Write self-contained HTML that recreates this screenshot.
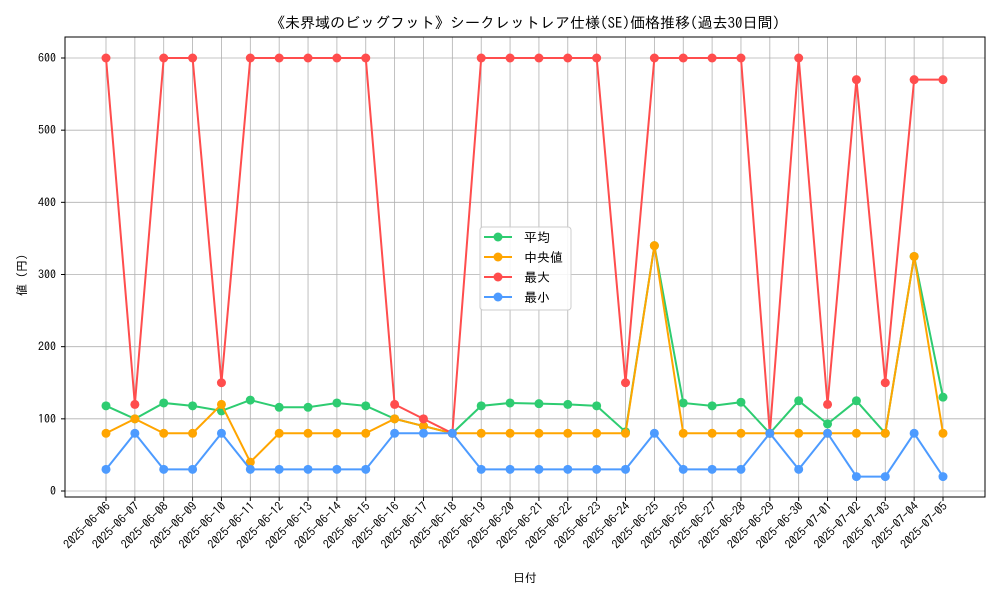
<!DOCTYPE html>
<html><head><meta charset="utf-8"><style>
body{margin:0;background:#fff;}
svg text{font-family:"IPAGothic","Noto Sans CJK JP",sans-serif;fill:#000;}
</style></head><body>
<svg id="chart" width="1000" height="600" xmlns="http://www.w3.org/2000/svg">
<rect width="1000" height="600" fill="#fff"/>
<text x="525" y="28" font-size="15" text-anchor="middle">《未界域のビッグフット》シークレットレア仕様(SE)価格推移(過去30日間)</text>
<g id="grid"></g>
<g id="axes"></g>
<g id="series"></g>
<rect x="65" y="37" width="920" height="460" fill="none" stroke="#000" stroke-width="1"/>
<text x="525" y="582" font-size="12" text-anchor="middle">日付</text>
<text transform="translate(26,275) rotate(-90)" font-size="12" text-anchor="middle">値 (円)</text>
<g id="legend">
<rect x="480" y="227" width="91" height="83" rx="3" fill="#fff" fill-opacity="0.85" stroke="#ccc"/>
</g>
</svg>
<script>
const dates = ["2025-06-06","2025-06-07","2025-06-08","2025-06-09","2025-06-10","2025-06-11","2025-06-12","2025-06-13","2025-06-14","2025-06-15","2025-06-16","2025-06-17","2025-06-18","2025-06-19","2025-06-20","2025-06-21","2025-06-22","2025-06-23","2025-06-24","2025-06-25","2025-06-26","2025-06-27","2025-06-28","2025-06-29","2025-06-30","2025-07-01","2025-07-02","2025-07-03","2025-07-04","2025-07-05"];
const avgValues = [118,100,122,118,111,126,116,116,122,118,100,90,80,118,122,121,120,118,82,340,122,118,123,80,125,93,125,80,325,130];
const medianValues = [80,100,80,80,120,40,80,80,80,80,100,90,80,80,80,80,80,80,80,340,80,80,80,80,80,80,80,80,325,80];
const maxValues = [600,120,600,600,150,600,600,600,600,600,120,100,80,600,600,600,600,600,150,600,600,600,600,80,600,120,570,150,570,570];
const minValues = [30,80,30,30,80,30,30,30,30,30,80,80,80,30,30,30,30,30,30,80,30,30,30,80,30,80,20,20,80,20];
const yTicks = [0,100,200,300,400,500,600];
const seriesNames = ["平均","中央値","最大","最小"];
const seriesColors = ["#2ecc71","#ffa500","#ff4d4d","#4d9bff"];

const NS="http://www.w3.org/2000/svg";
const X0=106,X1=943,Y0=491,Y600=58;
function xs(i){return X0+(X1-X0)*i/(dates.length-1);}
function ys(v){return Y0-(Y0-Y600)*v/600;}
function mk(tag,attrs,parent){const e=document.createElementNS(NS,tag);for(const k in attrs)e.setAttribute(k,attrs[k]);parent.appendChild(e);return e;}
const grid=document.getElementById('grid'),axes=document.getElementById('axes'),ser=document.getElementById('series'),leg=document.getElementById('legend');
dates.forEach((d,i)=>{
  const x=xs(i);
  const g=mk('line',{x1:x,x2:x,y1:37,y2:497,stroke:'#b0b0b0','stroke-width':0.8},grid);
  
  
  const t=mk('line',{x1:x,x2:x,y1:497,y2:501,stroke:'#000'},axes);
  
  
  const l=mk('text',{transform:`translate(${x+5},${507}) rotate(-45)`,'font-size':12,'text-anchor':'end'},axes);
  l.textContent=d;
  
  
});
yTicks.forEach(v=>{
  const y=ys(v);
  const g=mk('line',{x1:65,x2:985,y1:y,y2:y,stroke:'#b0b0b0','stroke-width':0.8},grid);
  
  
  const t=mk('line',{x1:61,x2:65,y1:y,y2:y,stroke:'#000'},axes);
  
  
  const l=mk('text',{x:56,y:y+4,'font-size':12,'text-anchor':'end'},axes);
  l.textContent=v;
  
  
});
[avgValues,medianValues,maxValues,minValues].forEach((vals,s)=>{
  const c=seriesColors[s];
  const p=mk('polyline',{points:vals.map((v,i)=>xs(i)+','+ys(v)).join(' '),fill:'none',stroke:c,'stroke-width':2},ser);
  
  
  vals.forEach((v,i)=>{
    const m=mk('circle',{cx:xs(i),cy:ys(v),r:4.5,fill:c},ser);
    
    
  });
  const ly=237+s*20;
  const ll=mk('line',{x1:484,x2:512,y1:ly,y2:ly,stroke:c,'stroke-width':2},leg);
  
  
  const lc=mk('circle',{cx:498,cy:ly,r:4.5,fill:c},leg);
  
  
  const lt=mk('text',{x:524,y:ly+5,'font-size':13},leg);
  lt.textContent=seriesNames[s];
  
  
});
</script>
</body></html>
